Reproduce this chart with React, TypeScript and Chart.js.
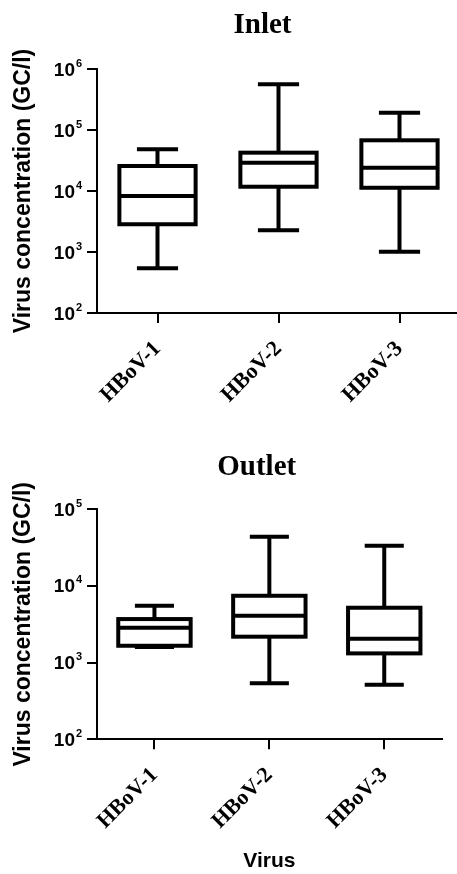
import React, { useEffect, useRef } from 'react';
import { Chart, registerables } from 'chart.js';

Chart.register(...registerables);

// ---- data ----
const categories = ['HBoV-1', 'HBoV-2', 'HBoV-3'];

const inletMin = [540, 2270, 1010];
const inletQ1 = [2850, 11750, 11300];
const inletMedian = [8280, 29100, 24100];
const inletQ3 = [25700, 42500, 67800];
const inletMax = [48300, 561000, 192000];

const outletMin = [1600, 540, 515];
const outletQ1 = [1660, 2180, 1320];
const outletMedian = [2850, 4100, 2050];
const outletQ3 = [3700, 7450, 5200];
const outletMax = [5500, 43800, 33400];

const inletTicks = [1e2, 1e3, 1e4, 1e5, 1e6];
const outletTicks = [1e2, 1e3, 1e4, 1e5];

const inletTitle = 'Inlet';
const outletTitle = 'Outlet';
const yTitle = 'Virus concentration (GC/l)';
const xTitle = 'Virus';

type Stats = { min: number[]; q1: number[]; median: number[]; q3: number[]; max: number[] };

const boxPlugin = {
  id: 'boxWhiskers',
  afterDatasetsDraw(chart: any, _args: any, opts: any) {
    const s: Stats = opts.stats;
    if (!s) return;
    const { ctx } = chart;
    const y = chart.scales.y;
    const meta = chart.getDatasetMeta(0);
    ctx.save();
    ctx.strokeStyle = '#000';
    ctx.lineWidth = opts.lineWidth || 4;
    ctx.lineCap = 'butt';
    const line = (x1: number, y1: number, x2: number, y2: number) => {
      ctx.beginPath();
      ctx.moveTo(x1, y1);
      ctx.lineTo(x2, y2);
      ctx.stroke();
    };
    meta.data.forEach((el: any, i: number) => {
      const { x: cx, width } = el.getProps(['x', 'width'], true);
      const half = width / 2;
      const yMin = y.getPixelForValue(s.min[i]);
      const yQ1 = y.getPixelForValue(s.q1[i]);
      const yMed = y.getPixelForValue(s.median[i]);
      const yQ3 = y.getPixelForValue(s.q3[i]);
      const yMax = y.getPixelForValue(s.max[i]);
      // whiskers
      line(cx, yQ3, cx, yMax);
      line(cx, yQ1, cx, yMin);
      const cap = width * 0.27;
      line(cx - cap, yMax, cx + cap, yMax);
      line(cx - cap, yMin, cx + cap, yMin);
      // box
      ctx.lineJoin = 'miter';
      ctx.strokeRect(cx - half, yQ3, width, yQ1 - yQ3);
      // median
      line(cx - half, yMed, cx + half, yMed);
    });
    ctx.restore();
  },
};

const yLabelPlugin = {
  id: 'powLabels',
  afterDraw(chart: any, _args: any, opts: any) {
    const { ctx } = chart;
    const y = chart.scales.y;
    ctx.save();
    ctx.fillStyle = '#000';
    y.ticks.forEach((t: any) => {
      const py = y.getPixelForValue(t.value);
      const exp = Math.round(Math.log10(t.value));
      ctx.font = 'bold 19px "Liberation Sans", Arial, sans-serif';
      ctx.textAlign = 'right';
      ctx.textBaseline = 'alphabetic';
      ctx.fillText('10', 75, py + 6.5);
      ctx.font = 'bold 11px "Liberation Sans", Arial, sans-serif';
      ctx.textAlign = 'left';
      ctx.fillText(String(exp), 76, py - 2.5);
    });
    // chart title
    if (opts.title) {
      ctx.font = 'bold 29px "Liberation Serif", "Times New Roman", serif';
      ctx.textAlign = 'center';
      ctx.textBaseline = 'alphabetic';
      ctx.fillText(opts.title, opts.titleX, opts.titleY);
    }
    ctx.restore();
  },
};

function buildConfig(
  stats: Stats,
  ticks: number[],
  opts: {
    title: string;
    titleX: number;
    titleY: number;
    padTop: number;
    padRight: number;
    xHeight: number;
    showXTitle: boolean;
  }
): any {
  return {
    type: 'bar',
    data: {
      labels: categories,
      datasets: [
        {
          data: categories.map((_, i) => [stats.q1[i], stats.q3[i]]),
          backgroundColor: 'rgba(255,255,255,0)',
          borderWidth: 0,
          barPercentage: 0.63,
          categoryPercentage: 1,
        },
      ],
    },
    options: {
      responsive: false,
      animation: false,
      events: [],
      layout: { padding: { top: opts.padTop, right: opts.padRight, left: 0, bottom: 0 } },
      plugins: {
        legend: { display: false },
        tooltip: { enabled: false },
        title: { display: false },
        boxWhiskers: { stats, lineWidth: 4 },
        powLabels: { title: opts.title, titleX: opts.titleX, titleY: opts.titleY },
      },
      scales: {
        x: {
          type: 'category',
          offset: true,
          grid: {
            display: true,
            drawOnChartArea: false,
            drawTicks: true,
            tickLength: 10,
            color: '#000',
            lineWidth: 2,
            offset: false,
          },
          border: { display: true, color: '#000', width: 2 },
          ticks: {
            color: '#000',
            font: { family: '"Liberation Serif", "Times New Roman", serif', size: 22, weight: 'bold' },
            minRotation: 45,
            maxRotation: 45,
            autoSkip: false,
            padding: 13,
          },
          title: {
            display: opts.showXTitle,
            text: xTitle,
            color: '#000',
            font: { family: '"Liberation Sans", Arial, sans-serif', size: 21, weight: 'bold' },
            padding: { top: 0, bottom: 0 },
          },
          afterFit: (s: any) => {
            s.height = opts.xHeight;
          },
        },
        y: {
          type: 'logarithmic',
          min: ticks[0],
          max: ticks[ticks.length - 1],
          afterBuildTicks: (s: any) => {
            s.ticks = ticks.map((v) => ({ value: v }));
          },
          grid: {
            display: true,
            drawOnChartArea: false,
            drawTicks: true,
            tickLength: 10,
            color: '#000',
            lineWidth: 2,
          },
          border: { display: true, color: '#000', width: 2 },
          ticks: { display: false },
          title: {
            display: true,
            text: yTitle,
            color: '#000',
            font: { family: '"Liberation Sans", Arial, sans-serif', size: 23, weight: 'bold' },
            padding: { top: 10, bottom: 0 },
          },
          afterFit: (s: any) => {
            s.width = 97;
          },
        },
      },
    },
    plugins: [boxPlugin, yLabelPlugin],
  };
}

function BoxChart(props: {
  width: number;
  height: number;
  stats: Stats;
  ticks: number[];
  title: string;
  titleX: number;
  titleY: number;
  padTop: number;
  padRight: number;
  xHeight: number;
  showXTitle: boolean;
}) {
  const ref = useRef<HTMLCanvasElement | null>(null);
  useEffect(() => {
    if (!ref.current) return;
    const chart = new Chart(ref.current, buildConfig(props.stats, props.ticks, props));
    return () => chart.destroy();
  }, []);
  return (
    <canvas
      ref={ref}
      width={props.width}
      height={props.height}
      style={{ display: 'block', width: props.width, height: props.height }}
    />
  );
}

export default function App() {
  const inletStats: Stats = { min: inletMin, q1: inletQ1, median: inletMedian, q3: inletQ3, max: inletMax };
  const outletStats: Stats = { min: outletMin, q1: outletQ1, median: outletMedian, q3: outletQ3, max: outletMax };
  return (
    <div
      style={{
        position: 'absolute',
        left: 0,
        top: 0,
        width: 457,
        height: 874,
        overflow: 'hidden',
        background: '#fff',
      }}
    >
      <div style={{ position: 'absolute', left: 0, top: 0, width: 460, height: 437 }}>
        <BoxChart
          width={460}
          height={437}
          stats={inletStats}
          ticks={inletTicks}
          title={inletTitle}
          titleX={262.5}
          titleY={33}
          padTop={69}
          padRight={0}
          xHeight={124}
          showXTitle={false}
        />
      </div>
      <div style={{ position: 'absolute', left: 0, top: 437, width: 457, height: 437 }}>
        <BoxChart
          width={457}
          height={437}
          stats={outletStats}
          ticks={outletTicks}
          title={outletTitle}
          titleX={256.7}
          titleY={38}
          padTop={72.3}
          padRight={15.3}
          xHeight={134.7}
          showXTitle={true}
        />
      </div>
    </div>
  );
}
